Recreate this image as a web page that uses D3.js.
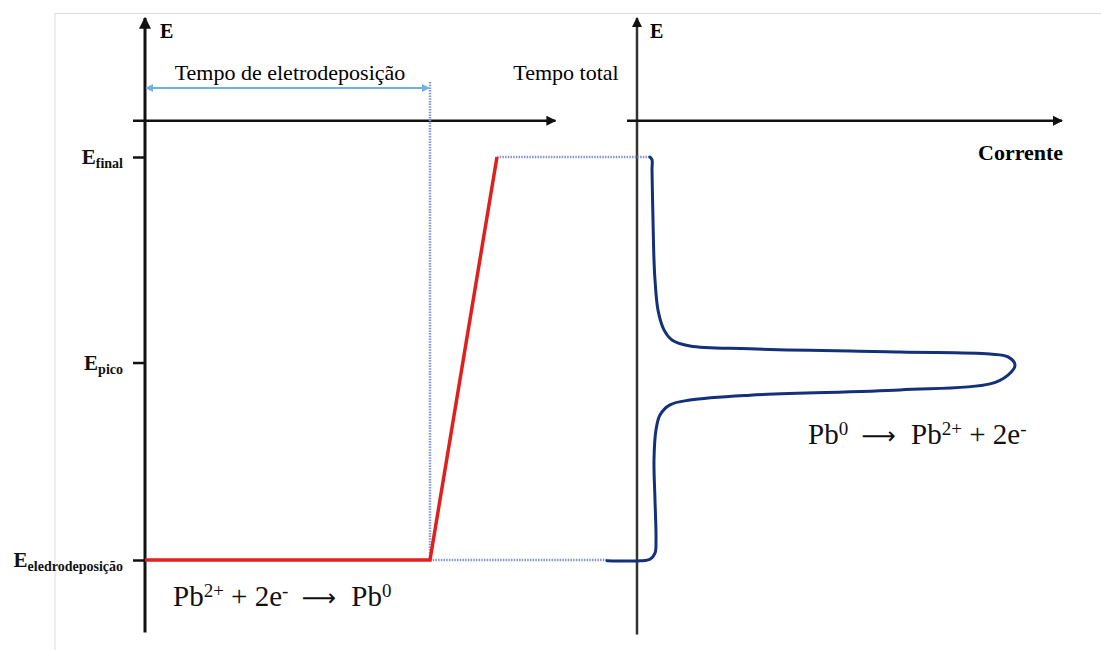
<!DOCTYPE html>
<html>
<head>
<meta charset="utf-8">
<script src="https://cdn.jsdelivr.net/npm/d3@7"></script>
<style>
  html, body { margin: 0; padding: 0; background: #fff; }
</style>
</head>
<body>
<script>
// níveis de potencial (E em % entre deposição e final)
const levelNames = ['eledrodeposição', 'pico', 'final'];
const levelValues = [0, 49, 100];

// rampa do potencial no tempo (painel esquerdo)
const stepTime = [0, 10, 12.35];
const stepPotential = [0, 0, 100];
const depositionTime = 10;

// voltamograma (painel direito): corrente x potencial
const curveCurrent = [-7.5, 0.75, 3.25, 4.5, 4.75, 4.5, 4.25, 4.75, 5.75, 8.25, 13.25, 28.25, 65.75, 88.25, 92.75, 94.5,
  92.75, 88.25, 65.75, 28.25, 13.25, 8.75, 6.75, 5.25, 4.5, 4.25, 4, 3.75, 3.75, 3.25];
const curvePotential = [-0.2, -0.2, 0.2, 1.7, 5, 14.9, 24.8, 32.3, 36, 38.5, 39.7, 40.9, 42.2, 43.7, 45.9, 48.4,
  50.4, 51.1, 51.6, 52.4, 53.1, 54.6, 57.1, 62, 69.5, 74.4, 84.4, 96.8, 99.3, 100];

const width = 1101;
const height = 650;
const serif = '"Liberation Serif", "Times New Roman", "DejaVu Serif", serif';

const svg = d3.select('body').append('svg')
  .attr('width', width)
  .attr('height', height)
  .attr('font-family', serif);

// escalas
const y = d3.scaleLinear().domain([0, 100]).range([560, 157]);
const xTime = d3.scaleLinear().domain([0, 10]).range([145, 430]);
const xCur = d3.scaleLinear().domain([0, 100]).range([637, 1037]);

// moldura cinza clara
svg.append('path')
  .attr('d', `M55,${height} L55,13.5 L${width},13.5`)
  .attr('fill', 'none')
  .attr('stroke', '#dcdcdc')
  .attr('stroke-width', 1);

const defs = svg.append('defs');
defs.append('marker')
  .attr('id', 'arrowBlack')
  .attr('viewBox', '0 0 10 10')
  .attr('refX', 9).attr('refY', 5)
  .attr('markerWidth', 4).attr('markerHeight', 4)
  .attr('orient', 'auto')
  .append('path').attr('d', 'M0,0 L10,5 L0,10 z').attr('fill', '#111');
defs.append('marker')
  .attr('id', 'arrowBlue')
  .attr('viewBox', '0 0 10 10')
  .attr('refX', 9).attr('refY', 5)
  .attr('markerWidth', 4).attr('markerHeight', 4)
  .attr('orient', 'auto-start-reverse')
  .append('path').attr('d', 'M0,0 L10,5 L0,10 z').attr('fill', '#6fb2e2');

// eixos (linhas com seta)
const axisG = svg.append('g').attr('stroke', '#111').attr('fill', 'none');
axisG.append('line') // E esquerdo
  .attr('x1', xTime(0)).attr('x2', xTime(0))
  .attr('y1', y(-18)).attr('y2', y(134.5))
  .attr('stroke-width', 3)
  .attr('marker-end', 'url(#arrowBlack)');
axisG.append('line') // tempo
  .attr('x1', xTime(0) - 12).attr('x2', xTime(14.4))
  .attr('y1', y(109)).attr('y2', y(109))
  .attr('stroke-width', 2.5)
  .attr('marker-end', 'url(#arrowBlack)');
axisG.append('line') // E direito
  .attr('x1', xCur(0)).attr('x2', xCur(0))
  .attr('y1', y(-18.5)).attr('y2', y(134.5))
  .attr('stroke-width', 2.5)
  .attr('stroke', '#333')
  .attr('marker-end', 'url(#arrowBlack)');
axisG.append('line') // corrente
  .attr('x1', xCur(0) - 10).attr('x2', xCur(106.25))
  .attr('y1', y(109)).attr('y2', y(109))
  .attr('stroke-width', 2.5)
  .attr('marker-end', 'url(#arrowBlack)');

// marcas dos níveis de potencial
const yAxis = d3.axisLeft(y)
  .tickValues(levelValues)
  .tickSize(12)
  .tickFormat('');
const yAxisG = svg.append('g')
  .attr('transform', `translate(${xTime(0)},0)`)
  .call(yAxis);
yAxisG.select('.domain').remove();
yAxisG.selectAll('.tick line').attr('stroke', '#111').attr('stroke-width', 2.5);

const levelLabels = svg.append('g').attr('fill', '#111');
levelValues.forEach((v, i) => {
  const t = levelLabels.append('text')
    .attr('x', xTime(0) - 22)
    .attr('y', y(v) + 7)
    .attr('text-anchor', 'end')
    .attr('font-weight', 'bold');
  t.append('tspan').attr('font-size', 21).text('E');
  t.append('tspan').attr('font-size', 14).attr('dy', 4).text(levelNames[i]);
});

// títulos dos eixos
svg.append('text').attr('x', 160).attr('y', 38).attr('font-size', 20).attr('font-weight', 'bold').text('E');
svg.append('text').attr('x', 650).attr('y', 38).attr('font-size', 20).attr('font-weight', 'bold').text('E');
svg.append('text').attr('x', 978).attr('y', 160)
  .attr('font-size', 22).attr('font-weight', 'bold').text('Corrente');
svg.append('text').attr('x', 290).attr('y', 80).attr('text-anchor', 'middle')
  .attr('font-size', 22).text('Tempo de eletrodeposição');
svg.append('text').attr('x', 566).attr('y', 80).attr('text-anchor', 'middle')
  .attr('font-size', 22).text('Tempo total');

// seta dupla do tempo de eletrodeposição
svg.append('line')
  .attr('x1', xTime(0) + 1).attr('x2', xTime(depositionTime) - 1)
  .attr('y1', 88).attr('y2', 88)
  .attr('stroke', '#6fb2e2').attr('stroke-width', 2)
  .attr('marker-start', 'url(#arrowBlue)')
  .attr('marker-end', 'url(#arrowBlue)');

// linhas pontilhadas
const dotted = svg.append('g')
  .attr('stroke', '#8596d0')
  .attr('stroke-width', 2.5)
  .attr('stroke-dasharray', '1.5,1.2')
  .attr('fill', 'none');
dotted.append('line')
  .attr('x1', xTime(depositionTime)).attr('x2', xTime(depositionTime))
  .attr('y1', 82).attr('y2', y(0));
dotted.append('line')
  .attr('x1', xTime(stepTime[2])).attr('x2', xCur(curveCurrent[curveCurrent.length - 1]))
  .attr('y1', y(100)).attr('y2', y(100));
dotted.append('line')
  .attr('x1', xTime(depositionTime)).attr('x2', xCur(curveCurrent[0]))
  .attr('y1', y(0)).attr('y2', y(0));

// rampa de potencial (vermelho)
const stepLine = d3.line()
  .x(d => xTime(d[0]))
  .y(d => y(d[1]));
svg.append('path')
  .datum(stepTime.map((t, i) => [t, stepPotential[i]]))
  .attr('d', stepLine)
  .attr('fill', 'none')
  .attr('stroke', '#e0201c')
  .attr('stroke-width', 3.5);

// voltamograma (azul escuro)
const curveLine = d3.line()
  .x(d => xCur(d[0]))
  .y(d => y(d[1]))
  .curve(d3.curveCatmullRom.alpha(0.5));
svg.append('path')
  .datum(curveCurrent.map((c, i) => [c, curvePotential[i]]))
  .attr('d', curveLine)
  .attr('fill', 'none')
  .attr('stroke', '#13307a')
  .attr('stroke-width', 3)
  .attr('stroke-linejoin', 'round')
  .attr('stroke-linecap', 'round');

// reações
function reaction(x, yPos, parts) {
  const t = svg.append('text')
    .attr('x', x).attr('y', yPos)
    .attr('font-size', 29)
    .attr('fill', '#111')
    .attr('xml:space', 'preserve')
    .style('white-space', 'pre');
  parts.forEach(p => {
    const s = t.append('tspan').text(p.text);
    if (p.sup) s.attr('font-size', 19).attr('baseline-shift', '45%');
    if (p.arrow) s.attr('font-family', '"DejaVu Sans", sans-serif').attr('font-size', 24).attr('dx', 6);
    if (p.gap) s.attr('dx', p.gap);
  });
}
reaction(173, 606, [
  { text: 'Pb' }, { text: '2+', sup: true }, { text: ' + 2e' }, { text: '-', sup: true },
  { text: ' ' }, { text: '\u27F6', arrow: true }, { text: ' Pb', gap: 8 }, { text: '0', sup: true }
]);
reaction(808, 444, [
  { text: 'Pb' }, { text: '0', sup: true }, { text: ' ' }, { text: '\u27F6', arrow: true }, { text: ' Pb', gap: 8 },
  { text: '2+', sup: true }, { text: ' + 2e' }, { text: '-', sup: true }
]);
</script>
</body>
</html>
